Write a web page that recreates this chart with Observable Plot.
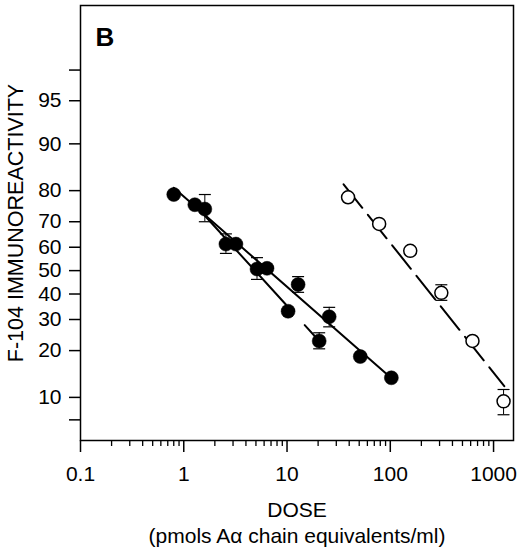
<!DOCTYPE html>
<html>
<head>
<meta charset="utf-8">
<script src="https://cdn.jsdelivr.net/npm/d3@7"></script>
<script src="https://cdn.jsdelivr.net/npm/@observablehq/plot@0.6"></script>
<style>
  body { margin: 0; background: #fff; }
</style>
</head>
<body>
<div id="chart"></div>
<script>
// filled circles (dose, % immunoreactivity, error bar ends)
const doseFilled = [0.8, 1.28, 1.6, 2.56, 3.2, 5.12, 6.4, 12.8, 10.24, 25.6, 20.48, 51.2, 102.4];
const pctFilled  = [78.9, 75.8, 74.4, 61.3, 61.3, 50.7, 51.0, 44.0, 33.1, 31.0, 22.8, 18.4, 13.5];
const loFilled   = [null, null, 70.0, 57.4, null, 46.2, null, 40.7, null, 27.4, 20.5, null, null];
const hiFilled   = [null, null, 78.9, 65.4, null, 55.6, null, 47.4, null, 34.6, 25.4, null, null];

// open circles
const doseOpen = [39, 78, 156, 312, 625, 1250];
const pctOpen  = [78.1, 69.2, 58.5, 40.5, 22.8, 9.4];
const loOpen   = [null, null, null, 37.4, null, 7.6];
const hiOpen   = [null, null, null, 43.9, null, 11.3];

// fitted lines, end points
const fitSolidDose  = [0.8, 104];
const fitSolidPct   = [80.8, 13.3];
const fitBrokenDose = [1.28, 20.48];
const fitBrokenPct  = [75.8, 22.8];
const fitOpenDose   = [35.3, 1270];
const fitOpenPct    = [81.7, 11.9];

// axis ticks
const xTicks = [0.1, 1, 10, 100, 1000];
const xTickLabels = ["0.1", "1", "10", "100", "1000"];
const yTicks = [7, 10, 20, 30, 40, 50, 60, 70, 80, 90, 95, 97];
const yTickLabels = ["", "10", "20", "30", "40", "50", "60", "70", "80", "90", "95", ""];

const logit = p => Math.log(p / (100 - p));
const unlogit = v => 100 / (1 + Math.exp(-v));

const table = (dose, pct, lo, hi) => dose.map((d, i) => ({
  dose: d, pct: pct[i], lo: lo ? lo[i] : null, hi: hi ? hi[i] : null
}));
const filled = table(doseFilled, pctFilled, loFilled, hiFilled);
const open = table(doseOpen, pctOpen, loOpen, hiOpen);
const fitSolid = table(fitSolidDose, fitSolidPct);
const fitBroken = table(fitBrokenDose, fitBrokenPct);
const fitOpen = table(fitOpenDose, fitOpenPct);

const bars = filled.concat(open).filter(d => d.lo != null);

// horizontal cap for the error bars
const cap = {
  draw(context, size) {
    const w = Math.sqrt(size / Math.PI);
    context.moveTo(-w, 0);
    context.lineTo(w, 0);
  }
};

const minor = [];
for (const dec of [0.1, 1, 10, 100, 1000]) {
  for (let k = 2; k <= 9; k++) if (dec * k <= 1560) minor.push(dec * k);
}

const y = d => logit(d.pct);

const chart = Plot.plot({
  width: 520,
  height: 550,
  marginLeft: 80,
  marginRight: 7,
  marginTop: 5,
  marginBottom: 110,
  style: {fontFamily: "'Liberation Sans', Arial, sans-serif", fontSize: "21px", color: "black", background: "white"},
  x: {type: "log", domain: [0.1, 1560], axis: null},
  y: {domain: [logit(5), logit(99)], axis: null},
  marks: [
    Plot.axisX(minor, {tickSize: 6, tickFormat: () => "", strokeWidth: 1.3, label: null}),
    Plot.axisX(xTicks, {tickSize: 12, tickPadding: 14, strokeWidth: 1.5, fontSize: 21, label: null,
      tickFormat: d => xTickLabels[xTicks.indexOf(d)]}),
    Plot.axisY(yTicks.map(logit), {tickSize: 11, tickPadding: 8, strokeWidth: 1.5, fontSize: 21, label: null,
      tickFormat: d => yTickLabels[yTicks.indexOf(Math.round(unlogit(d)))]}),
    Plot.frame({stroke: "black", strokeWidth: 1.5}),
    Plot.line(fitSolid, {x: "dose", y, stroke: "black", strokeWidth: 2}),
    Plot.line(fitBroken, {x: "dose", y, stroke: "black", strokeWidth: 2, strokeDasharray: "135,28"}),
    Plot.line(fitOpen, {x: "dose", y, stroke: "black", strokeWidth: 2, strokeDasharray: "30,9"}),
    Plot.ruleX(bars, {x: "dose", y1: d => logit(d.lo), y2: d => logit(d.hi), stroke: "black", strokeWidth: 1}),
    Plot.dot(bars, {x: "dose", y: d => logit(d.lo), symbol: cap, r: 6, stroke: "black", strokeWidth: 1.2}),
    Plot.dot(bars, {x: "dose", y: d => logit(d.hi), symbol: cap, r: 6, stroke: "black", strokeWidth: 1.2}),
    Plot.dot(filled, {x: "dose", y, r: 7, fill: "black", stroke: "black", strokeWidth: 0.5}),
    Plot.dot(open, {x: "dose", y, r: 6.5, fill: "white", stroke: "black", strokeWidth: 1.5}),
    Plot.text(["B"], {frameAnchor: "top-left", dx: 15, dy: 22, fontSize: 26, fontWeight: "bold", textAnchor: "start"}),
    Plot.text(["F-104 IMMUNOREACTIVITY"], {frameAnchor: "left", rotate: -90, dx: -64, textAnchor: "middle", fontSize: 21.5}),
    Plot.text(["DOSE"], {frameAnchor: "bottom", dy: 76, fontSize: 21}),
    Plot.text(["(pmols Aα chain equivalents/ml)"], {frameAnchor: "bottom", dy: 102, fontSize: 21})
  ]
});

d3.select("#chart").append(() => chart);
</script>
</body>
</html>
